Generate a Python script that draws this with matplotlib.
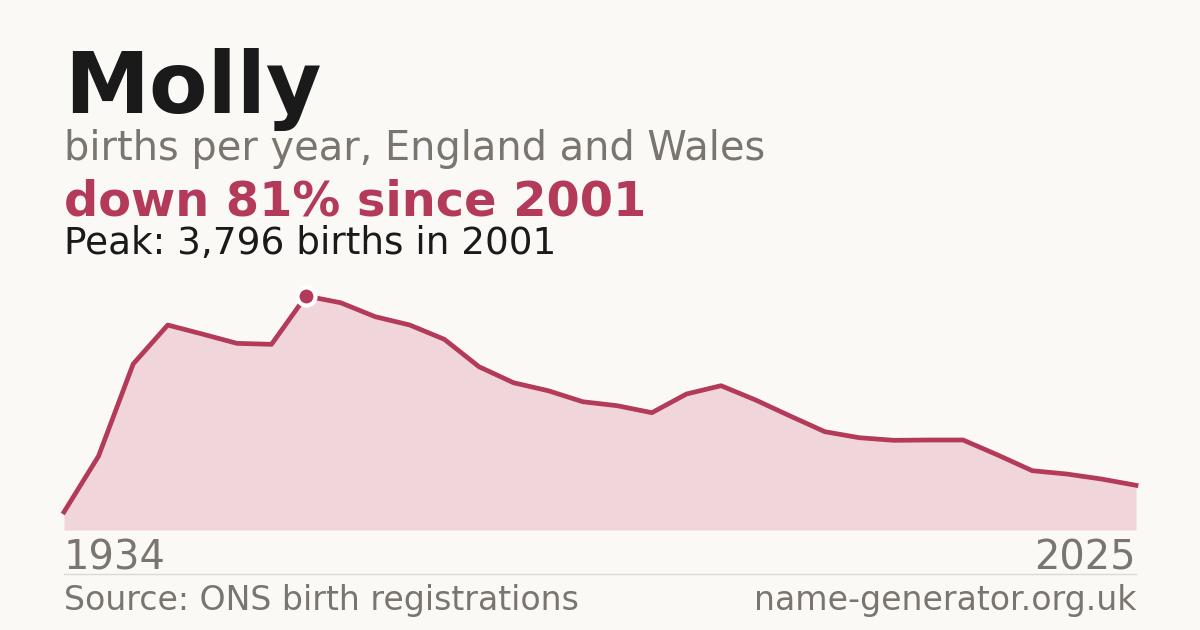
import matplotlib.pyplot as plt

# Births per year for "Molly"
years = [1934, 1944, 1954, 1964, 1974, 1984, 1996, 2001, 2002, 2003, 2004, 2005,
         2006, 2007, 2008, 2009, 2010, 2011, 2012, 2013, 2014, 2015, 2016, 2017,
         2018, 2019, 2020, 2021, 2022, 2023, 2024, 2025]
births = [292, 1200, 2693, 3325, 3179, 3028, 3012, 3796, 3687, 3460, 3325, 3093,
          2649, 2389, 2260, 2081, 2016, 1903, 2206, 2341, 2109, 1849, 1595, 1497,
          1455, 1460, 1460, 1217, 962, 908, 827, 725]

peak_idx = births.index(max(births))
peak_year = years[peak_idx]
peak_val = births[peak_idx]
drop = round((1 - births[-1] / peak_val) * 100)

BG = "#faf9f5"
RED = "#b33a58"
FILL = "#f0d5da"
GREY = "#7a756e"
DARK = "#1a1a1a"

plt.rcParams['font.family'] = ['DejaVu Sans']

fig = plt.figure(figsize=(12, 6.3), dpi=100, facecolor=BG)

# texts (figure coords, y measured from top in px)
def ty(px):
    return 1 - px / 630

fig.text(64 / 1200, ty(113), "Molly", fontsize=61.5, fontweight="bold", color=DARK, va="baseline")
fig.text(64 / 1200, ty(160), "births per year, England and Wales", fontsize=28.7, color=GREY, va="baseline")
fig.text(64 / 1200, ty(215), f"down {drop}% since {peak_year}", fontsize=34.5, fontweight="bold", color=RED, va="baseline")
fig.text(64 / 1200, ty(254), f"Peak: {peak_val:,} births in {peak_year}", fontsize=26.9, color=DARK, va="baseline")

ax = fig.add_axes([64 / 1200, ty(530), 1072 / 1200, (530 - 296) / 630])
ax.set_facecolor("none")
x = list(range(len(years)))
ax.fill_between(x, births, 0, color=FILL, lw=0)
ax.plot(x, births, color=RED, lw=3.4, solid_joinstyle="round", clip_on=False)
ax.plot(peak_idx, peak_val, marker="o", ms=13, color=RED, mec="white", mew=3, clip_on=False, zorder=5)
ax.set_xlim(0, len(years) - 1)
ax.set_ylim(0, peak_val)
ax.axis("off")

fig.text(64 / 1200, ty(570), str(years[0]), fontsize=28.8, color=GREY, va="baseline")
fig.text(1136 / 1200, ty(570), str(years[-1]), fontsize=28.8, color=GREY, va="baseline", ha="right")

fig.add_artist(plt.Line2D([64 / 1200, 1136 / 1200], [ty(574), ty(574)], color="#dcd9d3", lw=1))

fig.text(64 / 1200, ty(610), "Source: ONS birth registrations", fontsize=23.9, color=GREY, va="baseline")
fig.text(1136 / 1200, ty(610), "name-generator.org.uk", fontsize=23.9, color=GREY, va="baseline", ha="right")

fig.savefig("out.png", dpi=100, facecolor=BG)
